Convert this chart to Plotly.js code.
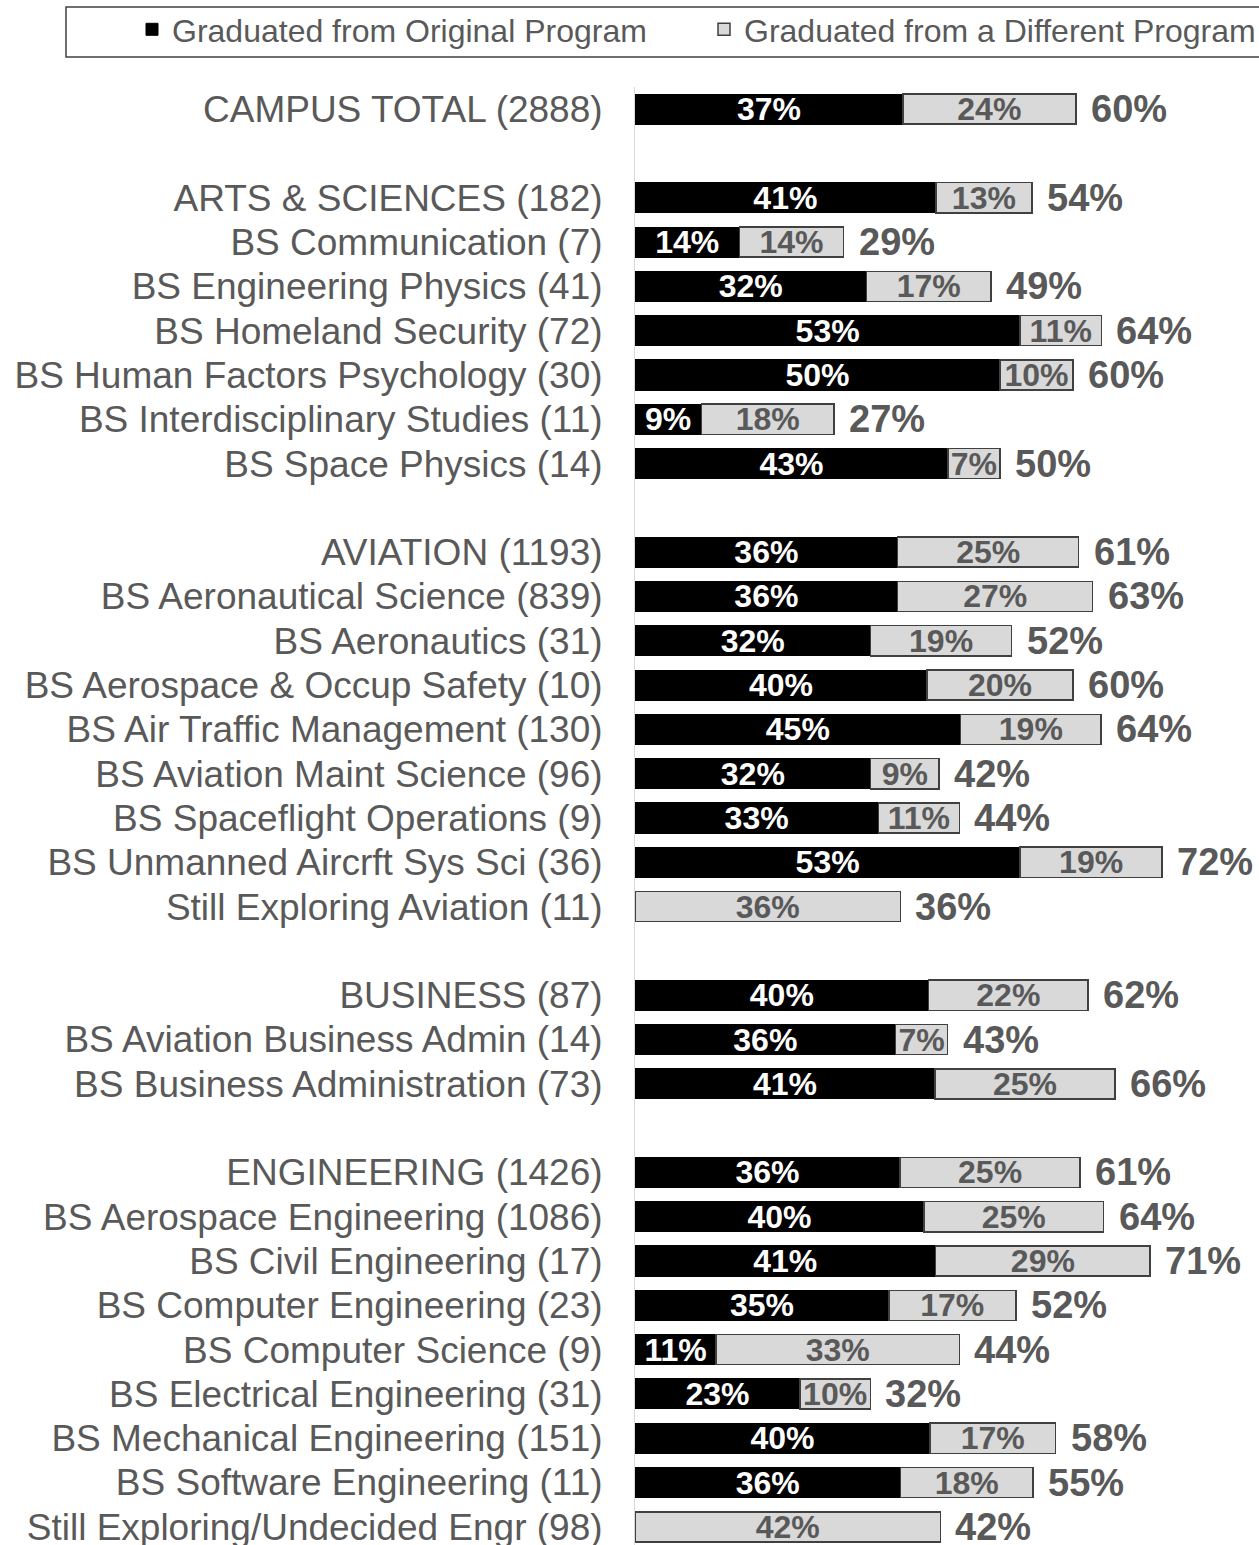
<!DOCTYPE html>
<html>
<head>
<meta charset="utf-8">
<script src="https://cdn.plot.ly/plotly-3.0.1.min.js"></script>
<style>html,body{margin:0;padding:0;background:#fff;}#chart{width:1259px;height:1545px;}</style>
</head>
<body>
<div id="chart"></div>
<script>
// Row labels, top to bottom ("" = spacer row)
const rows = [
  "CAMPUS TOTAL (2888)", "",
  "ARTS & SCIENCES (182)", "BS Communication (7)", "BS Engineering Physics (41)",
  "BS Homeland Security (72)", "BS Human Factors Psychology (30)",
  "BS Interdisciplinary Studies (11)", "BS Space Physics (14)", "",
  "AVIATION (1193)", "BS Aeronautical Science (839)", "BS Aeronautics (31)",
  "BS Aerospace & Occup Safety (10)", "BS Air Traffic Management (130)",
  "BS Aviation Maint Science (96)", "BS Spaceflight Operations (9)",
  "BS Unmanned Aircrft Sys Sci (36)", "Still Exploring Aviation (11)", "",
  "BUSINESS (87)", "BS Aviation Business Admin (14)", "BS Business Administration (73)", "",
  "ENGINEERING (1426)", "BS Aerospace Engineering (1086)", "BS Civil Engineering (17)",
  "BS Computer Engineering (23)", "BS Computer Science (9)", "BS Electrical Engineering (31)",
  "BS Mechanical Engineering (151)", "BS Software Engineering (11)",
  "Still Exploring/Undecided Engr (98)"
];
// % graduated from original program
const originalPct = [
  36.7, null,
  41.21, 14.29, 31.71, 52.78, 50.0, 9.09, 42.86, null,
  36.0, 36.0, 32.26, 40.0, 44.62, 32.29, 33.33, 52.78, 0, null,
  40.23, 35.71, 41.10, null,
  36.3, 39.6, 41.18, 34.78, 11.11, 22.58, 40.40, 36.36, 0
];
// % graduated from a different program
const differentPct = [
  23.7, null,
  13.19, 14.29, 17.07, 11.11, 10.0, 18.18, 7.14, null,
  24.8, 26.7, 19.35, 20.0, 19.23, 9.38, 11.11, 19.44, 36.36, null,
  21.84, 7.14, 24.66, null,
  24.7, 24.6, 29.41, 17.39, 33.33, 9.68, 17.22, 18.18, 41.84
];
const seriesNames = ["Graduated from Original Program", "Graduated from a Different Program"];

const pos = rows.map((r, i) => i);
const fmt = v => (v === null || v === 0) ? "" : Math.round(v) + "%";
const totals = originalPct.map((v, i) => v === null ? null : v + differentPct[i]);

const FONT = "Liberation Sans, Arial, sans-serif";
const GREY = "#595959";

const traces = [
  {
    type: "bar", orientation: "h", name: seriesNames[0], legend: "legend",
    y: pos, x: originalPct, text: originalPct.map(fmt),
    textposition: "inside", insidetextanchor: "middle", constraintext: "none",
    textfont: {family: FONT, size: 32, color: "#ffffff", weight: "bold"},
    marker: {color: "#000000", line: {color: "#000000", width: 1}},
    hoverinfo: "skip"
  },
  {
    type: "bar", orientation: "h", name: seriesNames[1], legend: "legend2",
    y: pos, x: differentPct, text: differentPct.map(fmt),
    textposition: "inside", insidetextanchor: "middle", constraintext: "none",
    textfont: {family: FONT, size: 32, color: GREY, weight: "bold"},
    marker: {color: "#d9d9d9", line: {color: "#404040", width: 1.5}},
    hoverinfo: "skip"
  }
];

const annotations = [];
totals.forEach((t, i) => {
  if (t === null) return;
  annotations.push({
    x: t, y: pos[i], xref: "x", yref: "y", text: Math.round(t) + "%",
    showarrow: false, xanchor: "left", yanchor: "middle", xshift: 13,
    font: {family: FONT, size: 38, color: GREY, weight: "bold"}
  });
});

const W = 1259, H = 1545;
const plotW = W - 635, plotH = H - 87;
const px2x = px => (px - 635) / plotW;
const px2y = py => (H - py) / plotH;

const legendFont = {family: FONT, size: 32, color: GREY};
const layout = {
  width: W, height: H,
  margin: {l: 635, r: 0, t: 87, b: 0, pad: 0, autoexpand: false},
  paper_bgcolor: "#ffffff", plot_bgcolor: "#ffffff",
  barmode: "stack", bargap: 0.32,
  showlegend: true,
  legend: {
    orientation: "h", xref: "container", yref: "container",
    x: 132 / W, y: 1 - 2 / H, xanchor: "left", yanchor: "top",
    font: legendFont, bgcolor: "rgba(0,0,0,0)", borderwidth: 0
  },
  legend2: {
    orientation: "h", xref: "container", yref: "container",
    x: 704 / W, y: 1 - 2 / H, xanchor: "left", yanchor: "top",
    font: legendFont, bgcolor: "rgba(0,0,0,0)", borderwidth: 0
  },
  xaxis: {range: [0, 85.5], showgrid: false, zeroline: false, showticklabels: false, ticks: "", fixedrange: true},
  yaxis: {
    range: [32.41, -0.5], tickmode: "array", tickvals: pos, ticktext: rows,
    showgrid: false, zeroline: false, ticks: "", showline: true, linecolor: "#d9d9d9", linewidth: 1,
    tickfont: {family: FONT, size: 37, color: GREY}, ticklabelstandoff: 24,
    ticklabeloverflow: "allow", fixedrange: true
  },
  shapes: [{
    type: "rect", xref: "paper", yref: "paper",
    x0: px2x(66), x1: px2x(1262), y0: px2y(57), y1: px2y(7),
    line: {color: "#404040", width: 1.5}, fillcolor: "rgba(0,0,0,0)"
  }],
  annotations: annotations
};

Plotly.newPlot("chart", traces, layout, {displayModeBar: false, staticPlot: true});
</script>
</body>
</html>
